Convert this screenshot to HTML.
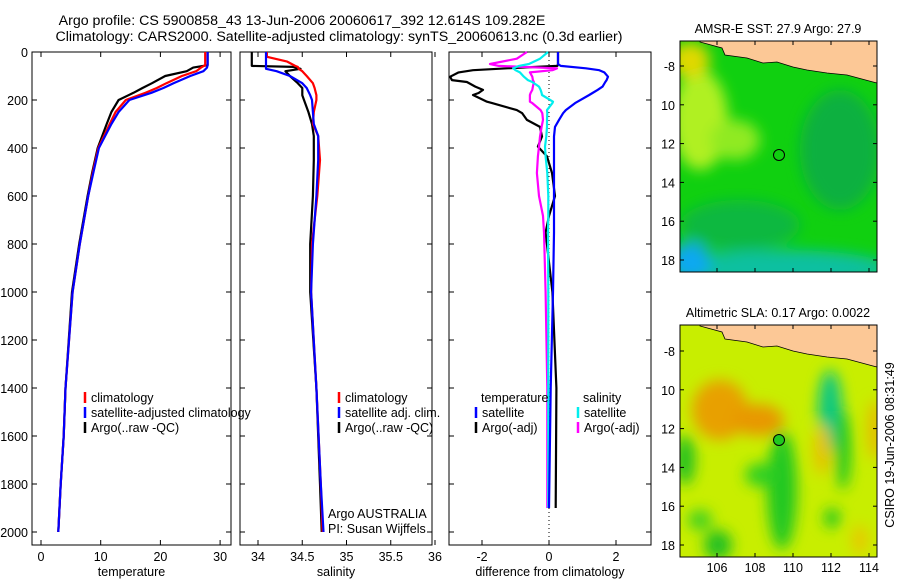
<!DOCTYPE html>
<html><head><meta charset="utf-8"><style>
body{margin:0;background:#fff;}
svg{display:block;font-family:"Liberation Sans",sans-serif;}
text{fill:#000;}
</style></head><body>
<svg id="chart" width="900" height="580" viewBox="0 0 900 580">
<defs>
<filter id="blur1" x="-20%" y="-20%" width="140%" height="140%"><feGaussianBlur stdDeviation="7"/></filter>
<clipPath id="clipA"><rect x="680" y="41" width="197" height="231"/></clipPath>
<clipPath id="clipB"><rect x="680" y="325" width="197" height="232"/></clipPath>
</defs>
<text x="302" y="25" font-size="14.2" text-anchor="middle">Argo profile: CS 5900858_43 13-Jun-2006 20060617_392 12.614S 109.282E</text>
<text x="339" y="41" font-size="14.2" text-anchor="middle">Climatology: CARS2000. Satellite-adjusted climatology: synTS_20060613.nc (0.3d earlier)</text>
<g id="p1"></g>
<g id="p2"></g>
<g id="p3"></g>

<g clip-path="url(#clipA)">
<rect x="680" y="41" width="197" height="231" fill="#10d010"/>
<g filter="url(#blur1)">
<ellipse cx="700" cy="120" rx="28" ry="50" fill="#b0f020"/>
<ellipse cx="735" cy="140" rx="25" ry="20" fill="#90ea20"/>
<ellipse cx="690" cy="60" rx="20" ry="18" fill="#e0d800"/>
<ellipse cx="840" cy="150" rx="40" ry="60" fill="#10b040"/>
<ellipse cx="740" cy="225" rx="60" ry="25" fill="#10b840"/>
<ellipse cx="780" cy="268" rx="110" ry="18" fill="#10c0a0"/>
<ellipse cx="690" cy="262" rx="20" ry="20" fill="#10a8f0"/>
</g>
</g>
<path d="M700,41 L700,42 L722,48 L725,55 L747,58 L763,63 L777,62 L793,67 L807,70 L827,73 L847,75 L873,82 L877,83 L877,41 Z" fill="#fcc896" stroke="#000" stroke-width="0.8"/>
<rect x="680" y="41" width="197" height="231" fill="none" stroke="#000"/>
<circle cx="779" cy="155" r="5.5" fill="none" stroke="#000"/>
<text x="778" y="33" font-size="12.5" text-anchor="middle">AMSR-E SST: 27.9 Argo: 27.9</text>

<g clip-path="url(#clipB)">
<rect x="680" y="325" width="197" height="232" fill="#c8ee00"/>
<g filter="url(#blur1)">
<ellipse cx="720" cy="410" rx="28" ry="30" fill="#e8a000"/>
<ellipse cx="758" cy="420" rx="26" ry="16" fill="#e89800"/>
<ellipse cx="830" cy="410" rx="12" ry="40" fill="#10c880"/>
<ellipse cx="843" cy="450" rx="8" ry="40" fill="#20c820"/>
<ellipse cx="782" cy="490" rx="15" ry="60" fill="#20c820"/>
<ellipse cx="760" cy="475" rx="15" ry="12" fill="#30d020"/>
<ellipse cx="685" cy="460" rx="10" ry="25" fill="#20c020"/>
<ellipse cx="718" cy="545" rx="14" ry="15" fill="#20c020"/>
<ellipse cx="700" cy="520" rx="12" ry="10" fill="#40d020"/>
<ellipse cx="832" cy="518" rx="8" ry="10" fill="#20c820"/>
<ellipse cx="822" cy="450" rx="8" ry="25" fill="#e8c000"/>
<ellipse cx="875" cy="430" rx="7" ry="30" fill="#e8b800"/>
<ellipse cx="860" cy="540" rx="8" ry="15" fill="#e8c800"/>
</g>
</g>
<path d="M700,325 L700,326 L722,332 L725,339 L747,342 L763,347 L777,346 L793,351 L807,354 L827,357 L847,359 L873,366 L877,367 L877,325 Z" fill="#fcc896" stroke="#000" stroke-width="0.8"/>
<rect x="680" y="325" width="197" height="232" fill="none" stroke="#000"/>
<circle cx="779" cy="440" r="5.5" fill="#20c820" stroke="#000"/>
<text x="778" y="317" font-size="12.5" text-anchor="middle">Altimetric SLA: 0.17 Argo: 0.0022</text>
<text transform="translate(894,445) rotate(-90)" font-size="12.5" text-anchor="middle">CSIRO 19-Jun-2006 08:31:49</text>
<g id="maps"></g>
</svg>
<script>
const NS="http://www.w3.org/2000/svg";
const depths=[0,55,65,80,100,130,150,170,200,250,300,400,500,600,800,1000,1400,1600,1800,2000];
const tempClim=[27.5,27.5,26.8,26.0,23.6,21.0,19.4,17.5,14.2,12.5,11.5,9.6,8.7,7.9,6.5,5.3,4.1,3.8,3.3,2.9];
const tempSat=[27.9,27.9,27.8,27.2,25.0,22.2,20.5,18.5,14.8,13.0,11.8,9.7,8.8,7.9,6.5,5.3,4.1,3.8,3.3,2.9];
const tempArgo=[27.9,27.9,25.5,24.4,20.8,18.6,17.0,15.5,13.0,11.8,11.0,9.5,8.6,7.8,6.4,5.2,4.1,3.8,3.3,2.9];
const salDepths=[0,20,40,58,62,70,80,100,130,150,180,200,250,300,350,450,600,800,1000,1400,1800,2000];
const salClim=[34.10,34.10,34.33,34.42,34.45,34.46,34.50,34.55,34.62,34.64,34.66,34.66,34.63,34.62,34.68,34.70,34.67,34.61,34.60,34.66,34.71,34.73];
const salSat=[34.09,34.09,34.09,34.09,34.09,34.09,34.21,34.36,34.50,34.55,34.59,34.61,34.62,34.63,34.68,34.68,34.66,34.62,34.60,34.66,34.71,34.74];
const salArgo=[33.93,33.93,33.93,33.93,34.40,34.48,34.31,34.36,34.45,34.50,34.50,34.52,34.57,34.61,34.63,34.63,34.62,34.59,34.59,34.66,34.70,34.72];
const dDepths=[0,28,50,58,68,76,85,103,117,125,144,158,171,179,207,213,242,255,283,312,352,394,435,504,600,683,752,1000,1400,1900];
const dTempSat=[0.27,0.27,0.27,0.35,1.1,1.5,1.65,1.76,1.72,1.68,1.6,1.45,1.3,1.2,0.85,0.78,0.5,0.42,0.3,0.18,0.15,0.15,0.15,0.15,0.15,0.15,0.15,0.12,0.05,0.0];
const dTempArgo=[0.27,0.27,0.27,0.25,-1.25,-2.27,-2.7,-2.95,-2.9,-2.45,-2.2,-1.97,-2.1,-2.27,-1.85,-1.7,-0.96,-0.8,-0.66,-0.27,-0.21,-0.33,-0.06,0.09,0.18,0.0,-0.1,0.1,0.22,0.2];
const dSalSat=[-0.03,-0.27,-0.6,-0.9,-1.07,-1.0,-0.87,-0.75,-0.63,-0.5,-0.3,-0.25,-0.22,-0.21,0.12,0.1,-0.06,-0.05,-0.06,-0.06,-0.08,-0.12,-0.1,-0.05,-0.02,-0.02,-0.03,-0.02,-0.02,-0.02];
const dSalArgo=[-0.66,-0.96,-1.76,-1.5,0.24,0.1,-0.57,-0.5,-0.48,-0.45,-0.48,-0.5,-0.55,-0.57,-0.57,-0.5,-0.25,-0.2,-0.18,-0.22,-0.27,-0.3,-0.33,-0.36,-0.3,-0.18,-0.15,-0.1,-0.05,-0.05];
const depthTicks=[0,200,400,600,800,1000,1200,1400,1600,1800,2000];
const tempTicks=[0,10,20,30];
const salTicks=[34,34.5,35,35.5,36];
const salTickLabels=["34","34.5","35","35.5","36"];
const diffTicks=[-2,0,2];
const lonTicks=[106,108,110,112,114];
const latTicks=[-8,-10,-12,-14,-16,-18];
const latLabels=["-8","10","12","14","16","18"];

const Y=d=>52+d*0.24;
const XT=v=>41+v*5.97;
const XS=v=>258+(v-34)*88.5;
const XD=v=>549+v*33.5;
function el(tag,attrs,parent,txt){const e=document.createElementNS(NS,tag);for(const k in attrs)e.setAttribute(k,attrs[k]);if(txt!==undefined)e.textContent=txt;parent.appendChild(e);return e;}
function panel(g,x0,x1,xs,ticks,labels,xlabel,showY){
  const y0=52,y1=545;
  depthTicks.forEach(d=>{
    const t=el('line',{x1:x0,x2:x0+5,y1:Y(d),y2:Y(d),stroke:'#000'},g);
    
    const t2=el('line',{x1:x1-5,x2:x1,y1:Y(d),y2:Y(d),stroke:'#000'},g);
    
    if(showY){const l=el('text',{x:28,y:Y(d)+5,'font-size':12.5,'text-anchor':'end'},g,String(d));
      }
  });
  ticks.forEach((v,i)=>{
    const x=xs(v);
    const a=el('line',{x1:x,x2:x,y1:y1,y2:y1-5,stroke:'#000'},g);
    
    const b=el('line',{x1:x,x2:x,y1:y0,y2:y0+5,stroke:'#000'},g);
    
    const l=el('text',{x:x,y:561,'font-size':12.5,'text-anchor':'middle'},g,labels[i]);
    
  });
  const r=el('rect',{x:x0,y:y0,width:x1-x0,height:y1-y0,fill:'none',stroke:'#000'},g);
  
  const xl=el('text',{x:(x0+x1)/2,y:576,'font-size':12.5,'text-anchor':'middle'},g,xlabel);
  
}
function line(g,ds,vs,xs,color,name,w){
  const pts=ds.map((d,i)=>xs(vs[i]).toFixed(1)+','+Y(d).toFixed(1)).join(' ');
  const p=el('polyline',{points:pts,fill:'none',stroke:color,'stroke-width':w||2.2,'stroke-linejoin':'round'},g);
  
  
}
function legend(g,x,y,items){
  items.forEach((it,i)=>{
    const yy=y+i*15;
    const m=el('line',{x1:x,x2:x,y1:yy-10,y2:yy+1,stroke:it[1],'stroke-width':2.5},g);
    
    const t=el('text',{x:x+6,y:yy,'font-size':12.5},g,it[0]);
    
  });
}
const p1=document.getElementById('p1'),p2=document.getElementById('p2'),p3=document.getElementById('p3');
panel(p1,32,231,XT,tempTicks,tempTicks.map(String),'temperature',true);
line(p1,depths,tempArgo,XT,'#000','temp-argo-line');
line(p1,depths,tempClim,XT,'#f00','temp-climatology-line');
line(p1,depths,tempSat,XT,'#00f','temp-satellite-line');
legend(p1,85,402,[['climatology','#f00'],['satellite-adjusted climatology','#00f'],['Argo(..raw -QC)','#000']]);
panel(p2,240,432,XS,salTicks,salTickLabels,'salinity',false);
line(p2,salDepths,salArgo,XS,'#000','sal-argo-line');
line(p2,salDepths,salClim,XS,'#f00','sal-climatology-line');
line(p2,salDepths,salSat,XS,'#00f','sal-satellite-line');
legend(p2,339,402,[['climatology','#f00'],['satellite adj. clim.','#00f'],['Argo(..raw -QC)','#000']]);
let t=el('text',{x:328,y:518,'font-size':12.5},p2,'Argo AUSTRALIA');
t=el('text',{x:328,y:533,'font-size':12.5},p2,'PI: Susan Wijffels');
panel(p3,449,651,XD,diffTicks,diffTicks.map(String),'difference from climatology',false);
const z=el('line',{x1:XD(0),x2:XD(0),y1:52,y2:545,stroke:'#000','stroke-dasharray':'1,3'},p3);

line(p3,dDepths,dTempArgo,XD,'#000','diff-temp-argo-line');
line(p3,dDepths,dSalArgo,XD,'#f0f','diff-sal-argo-line');
line(p3,dDepths,dSalSat,XD,'#0ee','diff-sal-satellite-line');
line(p3,dDepths,dTempSat,XD,'#00f','diff-temp-satellite-line');
t=el('text',{x:481,y:402,'font-size':12.5},p3,'temperature');
t=el('text',{x:583,y:402,'font-size':12.5},p3,'salinity');
legend(p3,476,417,[['satellite','#00f'],['Argo(-adj)','#000']]);
legend(p3,578,417,[['satellite','#0ee'],['Argo(-adj)','#f0f']]);
const maps=document.getElementById('maps');
const LX=v=>717+(v-106)*19;
[[41,272,66],[325,557,351]].forEach((m,mi)=>{
  lonTicks.forEach(v=>{
    const a=el('line',{x1:LX(v),x2:LX(v),y1:m[1],y2:m[1]-4,stroke:'#000'},maps);
    const b=el('line',{x1:LX(v),x2:LX(v),y1:m[0],y2:m[0]+4,stroke:'#000'},maps);
    if(mi===1){const l=el('text',{x:LX(v),y:572,'font-size':12.5,'text-anchor':'middle'},maps,String(v));}
  });
  latTicks.forEach((v,i)=>{
    const y=m[2]+(-8-v)*19.4;
    const a=el('line',{x1:680,x2:684,y1:y,y2:y,stroke:'#000'},maps);
    const b=el('line',{x1:873,x2:877,y1:y,y2:y,stroke:'#000'},maps);
    const l=el('text',{x:675,y:y+5,'font-size':12.5,'text-anchor':'end'},maps,latLabels[i]);
  });
});
</script>
</body></html>
